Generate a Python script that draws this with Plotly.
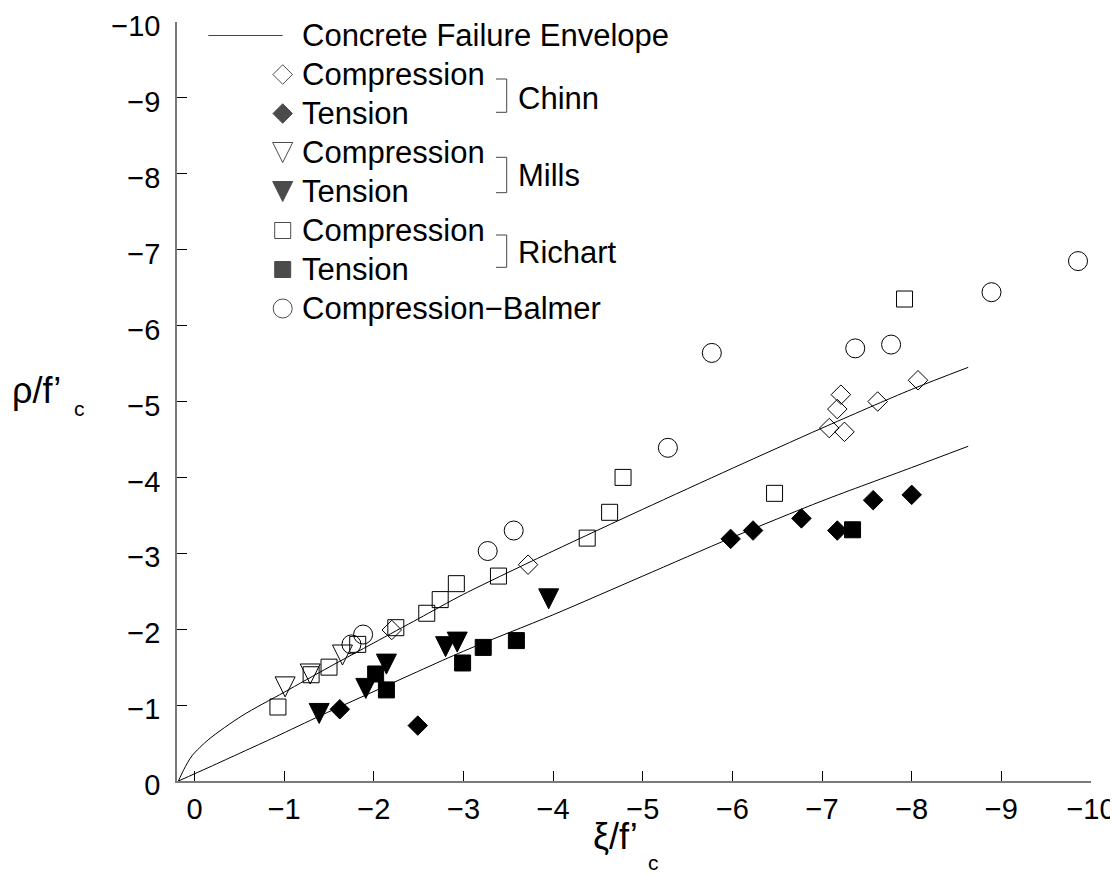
import plotly.graph_objects as go

# ---------------- data ----------------
upper_x = [0.18, 0.12, 0.03, -0.16, -0.53, -1.0, -1.5, -2.0, -2.5, -3.0, -4.0, -5.0, -6.0, -7.0, -8.0, -8.63]
upper_y = [0.0, -0.15, -0.33, -0.55, -0.86, -1.17, -1.50, -1.82, -2.14, -2.46, -3.03, -3.58, -4.12, -4.65, -5.16, -5.45]

lower_x = [0.18, -0.16, -0.53, -0.90, -1.42, -2.0, -3.0, -4.0, -5.0, -6.0, -7.0, -8.0, -8.63]
lower_y = [0.0, -0.18, -0.38, -0.58, -0.87, -1.18, -1.71, -2.19, -2.70, -3.21, -3.69, -4.13, -4.41]

chinn_comp_x = [-2.20, -3.72, -7.08, -7.17, -7.21, -7.25, -7.62, -8.07]
chinn_comp_y = [-1.99, -2.85, -4.65, -4.90, -5.09, -4.60, -5.00, -5.28]
chinn_ten_x = [-1.62, -2.49, -5.98, -6.23, -6.77, -7.17, -7.57, -8.00]
chinn_ten_y = [-0.945, -0.73, -3.19, -3.30, -3.46, -3.30, -3.70, -3.77]

mills_comp_x = [-1.01, -1.29, -1.65]
mills_comp_y = [-1.24, -1.41, -1.66]
mills_ten_x = [-1.39, -1.91, -2.14, -2.80, -2.93, -3.95]
mills_ten_y = [-0.89, -1.22, -1.54, -1.77, -1.83, -2.40]

richart_comp_x = [-0.93, -1.30, -1.50, -1.82, -2.245, -2.59, -2.74, -2.92, -3.39, -4.38, -4.63, -4.78, -6.47, -7.92]
richart_comp_y = [-0.975, -1.40, -1.50, -1.80, -2.02, -2.21, -2.39, -2.60, -2.70, -3.20, -3.54, -4.00, -3.79, -6.35]
richart_ten_x = [-2.02, -2.14, -2.99, -3.22, -3.59, -7.34]
richart_ten_y = [-1.41, -1.20, -1.555, -1.76, -1.85, -3.31]

balmer_x = [-1.75, -1.88, -3.27, -3.56, -5.28, -5.77, -7.37, -7.77, -8.89, -9.855]
balmer_y = [-1.80, -1.93, -3.03, -3.30, -4.39, -5.64, -5.70, -5.75, -6.44, -6.85]

tick_vals = [0, -1, -2, -3, -4, -5, -6, -7, -8, -9, -10]
tick_text = ["0", "\u22121", "\u22122", "\u22123", "\u22124", "\u22125",
             "\u22126", "\u22127", "\u22128", "\u22129", "\u221210"]

legend_labels = ["Concrete Failure Envelope", "Compression", "Tension", "Compression",
                 "Tension", "Compression", "Tension", "Compression\u2212Balmer"]
group_labels = ["Chinn", "Mills", "Richart"]

# ---------------- layout geometry ----------------
# the page body has an 8px margin, so the figure starts at (8, 8) in the window
OFF = 8
W, H = 1110, 866
ML, MT = 169, 14           # plot area starts at window (177, 22)
MR = W - (1091 - OFF)      # plot area ends at window x = 1091
MB = H - (781 - OFF)       # x axis at window y = 781
PW, PH = W - ML - MR, H - MT - MB
FONT = "Liberation Sans, Arial, Helvetica, sans-serif"


def px(xpix):
    """window x pixel -> paper x"""
    return (xpix - OFF - ML) / PW


def py(ypix):
    """window y pixel -> paper y"""
    return (H - MB - (ypix - OFF)) / PH


fig = go.Figure()

line_style = dict(color="black", width=1, shape="spline", smoothing=0.8)
fig.add_trace(go.Scatter(x=upper_x, y=upper_y, mode="lines", line=line_style, showlegend=False))
fig.add_trace(go.Scatter(x=lower_x, y=lower_y, mode="lines", line=line_style, showlegend=False))

TRI = 20
series = [
    (chinn_comp_x, chinn_comp_y, "diamond-open", 15, {}),
    (chinn_ten_x, chinn_ten_y, "diamond", 15, {}),
    (mills_comp_x, mills_comp_y, "arrow-down-open", TRI, dict(standoff=TRI / 2)),
    (mills_ten_x, mills_ten_y, "arrow-down", TRI, dict(standoff=TRI / 2)),
    (richart_comp_x, richart_comp_y, "square-open", 16, {}),
    (richart_ten_x, richart_ten_y, "square", 16, {}),
    (balmer_x, balmer_y, "circle-open", 19, {}),
]
for sx, sy, sym, size, extra in series:
    fig.add_trace(go.Scatter(
        x=sx, y=sy, mode="markers", showlegend=False, cliponaxis=False,
        marker=dict(symbol=sym, size=size, color="black", line=dict(width=1, color="black"), **extra),
    ))

# ---------------- hand-built legend ----------------
row_y = [35.5 + 39 * i for i in range(8)]
mark_x = 282.7
text_x = 300.5
fig.add_trace(go.Scatter(
    x=[px(mark_x)] * 7, y=[py(v) for v in row_y[1:]], xaxis="x2", yaxis="y2",
    mode="markers", showlegend=False, cliponaxis=False, hoverinfo="skip",
    marker=dict(symbol=[s[2] for s in series], size=[s[3] for s in series],
                color="black", line=dict(width=1, color="black"),
                standoff=[s[4].get("standoff", 0) for s in series]),
))

shapes = [dict(type="line", xref="paper", yref="paper", x0=px(208.3), x1=px(282.7),
               y0=py(row_y[0]), y1=py(row_y[0]), line=dict(color="#444", width=1))]
annotations = []
for lbl, yv in zip(legend_labels, row_y):
    annotations.append(dict(text=lbl, xref="paper", yref="paper", x=px(text_x), y=py(yv),
                            xanchor="left", yanchor="middle", showarrow=False, borderpad=0,
                            font=dict(family=FONT, size=31, color="black")))

brackets = [(79, 112.3), (157.3, 192.7), (235, 267.3)]
group_y = [98.3, 175.8, 252.8]
for (b0, b1), gl, gy in zip(brackets, group_labels, group_y):
    shapes.append(dict(type="path", xref="paper", yref="paper",
                       path="M {a},{b} L {c},{b} L {c},{d} L {a},{d}".format(
                           a=px(496), b=py(b0), c=px(506.7), d=py(b1)),
                       line=dict(color="#444", width=1)))
    annotations.append(dict(text=gl, xref="paper", yref="paper", x=px(517), y=py(gy),
                            xanchor="left", yanchor="middle", showarrow=False, borderpad=0,
                            font=dict(family=FONT, size=31, color="black")))

# axis titles (main part + lowered subscript)
annotations += [
    dict(text="\u03be/f\u2019", xref="paper", yref="paper", x=px(592), y=py(836.5),
         xanchor="left", yanchor="middle", showarrow=False, borderpad=0,
         font=dict(family=FONT, size=36, color="black")),
    dict(text="c", xref="paper", yref="paper", x=px(647), y=py(862),
         xanchor="left", yanchor="middle", showarrow=False, borderpad=0,
         font=dict(family=FONT, size=21, color="black")),
    dict(text="\u03c1/f\u2019", xref="paper", yref="paper", x=px(11), y=py(390.5),
         xanchor="left", yanchor="middle", showarrow=False, borderpad=0,
         font=dict(family=FONT, size=36, color="black")),
    dict(text="c", xref="paper", yref="paper", x=px(73), y=py(408.5),
         xanchor="left", yanchor="middle", showarrow=False, borderpad=0,
         font=dict(family=FONT, size=21, color="black")),
]

axis_common = dict(
    showgrid=False, zeroline=False, showline=True, linecolor="#7a7a7a", linewidth=1.5,
    ticks="inside", ticklen=10, tickwidth=1, tickcolor="black",
    tickvals=tick_vals, ticktext=tick_text, ticklabeloverflow="allow",
    tickfont=dict(family=FONT, size=29, color="black"),
)

fig.update_layout(
    width=W, height=H, margin=dict(l=ML, r=MR, t=MT, b=MB, autoexpand=False),
    paper_bgcolor="white", plot_bgcolor="white",
    font=dict(family=FONT, color="black"),
    xaxis=dict(range=[0.196, -10], ticklabelstandoff=1, **axis_common),
    yaxis=dict(range=[0, -10], ticklabelstandoff=9, ticklabelshift=-4, **axis_common),
    xaxis2=dict(range=[0, 1], overlaying="x", visible=False, fixedrange=True),
    yaxis2=dict(range=[0, 1], overlaying="y", visible=False, fixedrange=True, anchor="x2"),
    shapes=shapes, annotations=annotations,
    showlegend=False,
)

fig.write_html("out.html")
